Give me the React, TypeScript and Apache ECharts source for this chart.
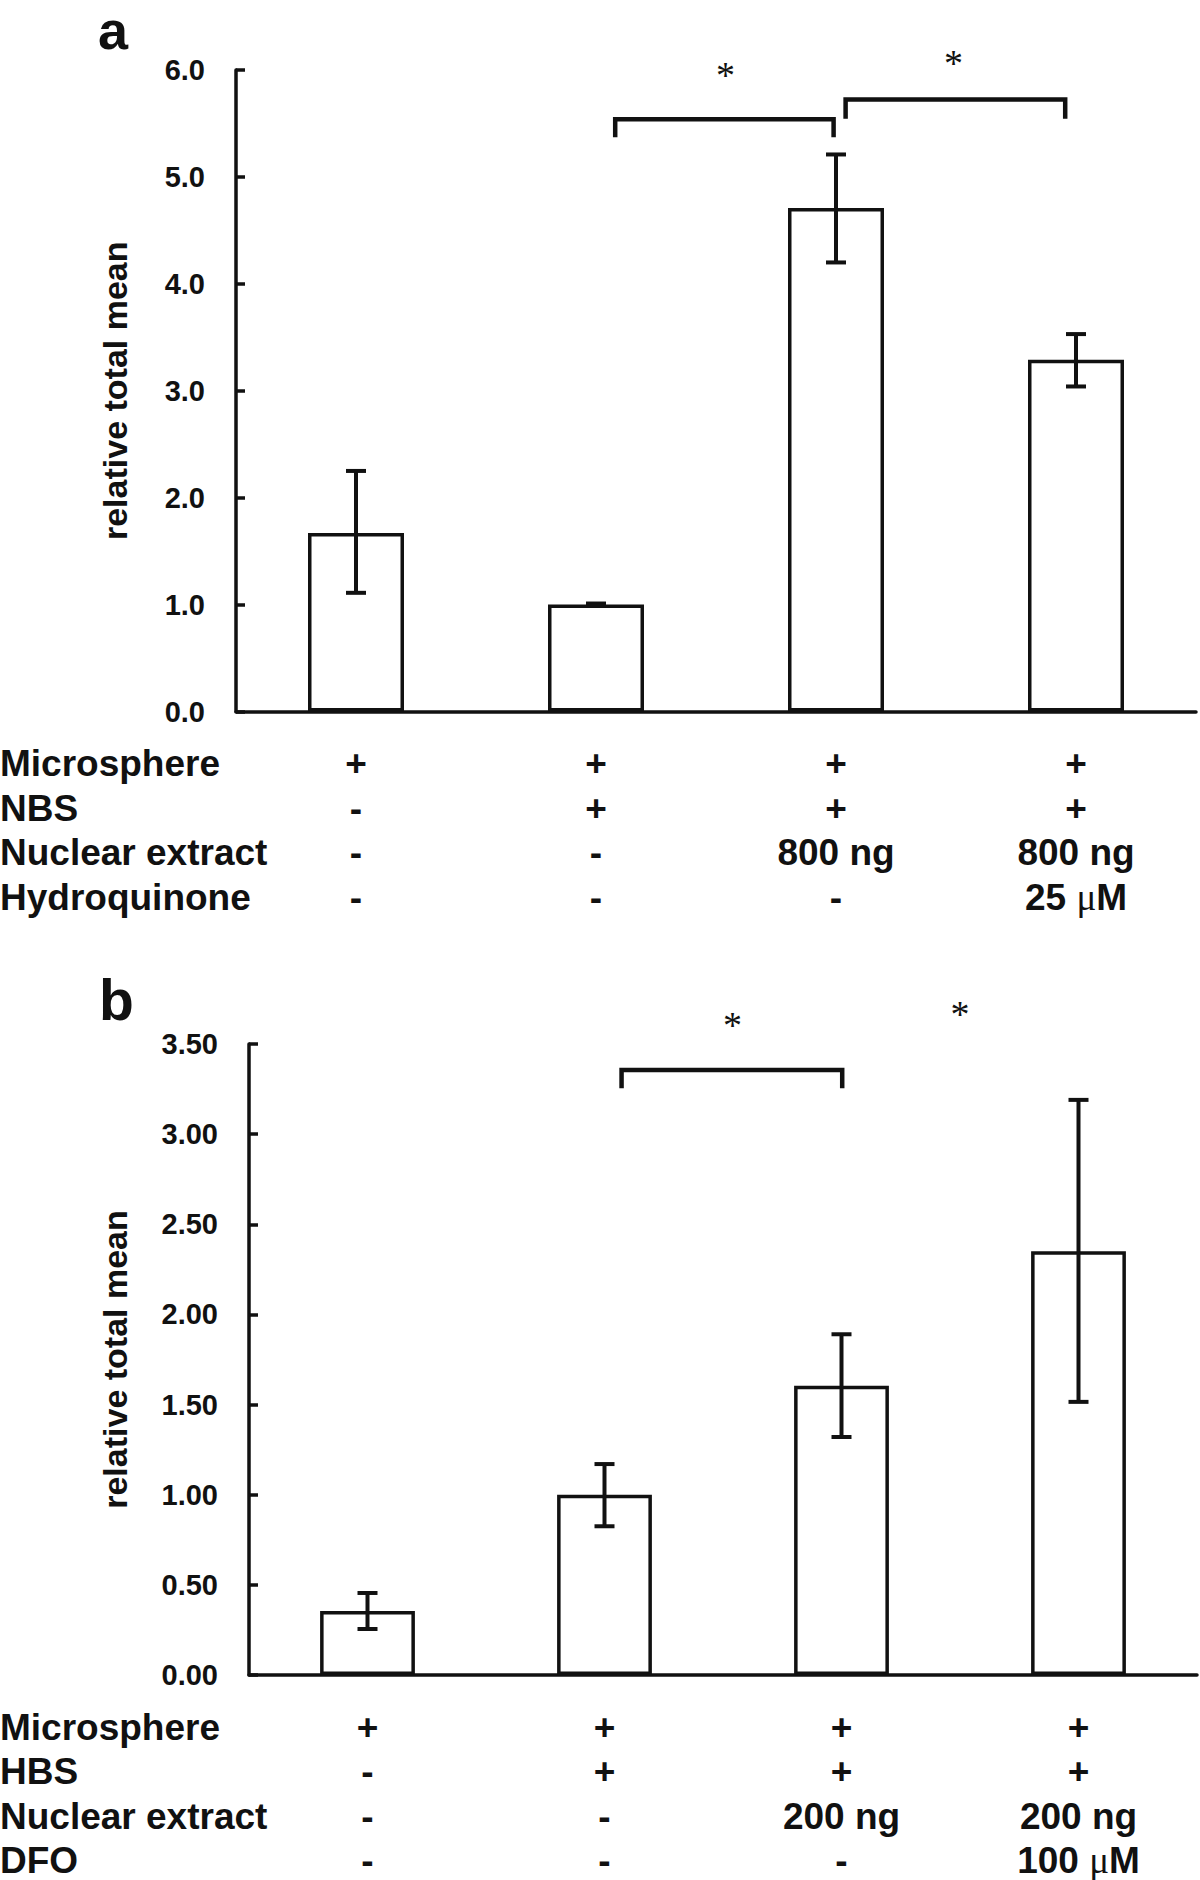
import React, { useEffect, useRef } from 'react';
import * as echarts from 'echarts';

// ---------- data ----------
const categoriesA = ['A1', 'A2', 'A3', 'A4'];
const valuesA = [1.67, 1.0, 4.71, 3.29];
const errHighA = [2.25, 1.01, 5.21, 3.53];
const errLowA = [1.11, 0.99, 4.2, 3.04];
const rowLabelsA = ['Microsphere', 'NBS', 'Nuclear extract', 'Hydroquinone'];
const tableA = [
  ['+', '+', '+', '+'],
  ['-', '+', '+', '+'],
  ['-', '-', '800 ng', '800 ng'],
  ['-', '-', '-', '25 μM'],
];
// significance brackets: [fromIndex, toIndex, barValue, legEndValue]
const bracketsA = [
  [1.08, 1.99, 5.54, 5.37],
  [2.04, 2.955, 5.724, 5.544],
];
// asterisks: [index position, value]
const starsA = [
  [1.54, 6.04],
  [2.49, 6.15],
];

const categoriesB = ['B1', 'B2', 'B3', 'B4'];
const valuesB = [0.355, 1.0, 1.605, 2.35];
const errHighB = [0.455, 1.17, 1.89, 3.19];
const errLowB = [0.255, 0.825, 1.32, 1.515];
const rowLabelsB = ['Microsphere', 'HBS', 'Nuclear extract', 'DFO'];
const tableB = [
  ['+', '+', '+', '+'],
  ['-', '+', '+', '+'],
  ['-', '-', '200 ng', '200 ng'],
  ['-', '-', '-', '100 μM'],
];
const bracketsB = [[1.072, 2.003, 3.356, 3.254]];
const starsB = [
  [1.54, 3.655],
  [2.5, 3.716],
];

const ticksA = { max: 6, interval: 1, decimals: 1 };
const ticksB = { max: 3.5, interval: 0.5, decimals: 2 };

// ---------- style ----------
const INK = '#111';
const SANS = '"Liberation Sans", Arial, Helvetica, sans-serif';
const SERIF = '"Liberation Serif", "Times New Roman", serif';

function catAxis(gridIndex: number, data: string[]) {
  return {
    type: 'category',
    gridIndex,
    data,
    axisLine: { onZero: false, lineStyle: { color: INK, width: 3.5 } },
    axisTick: { inside: true, length: 9, lineStyle: { color: INK, width: 3.5 } },
    axisLabel: { show: false },
    splitLine: { show: false },
  };
}

function hiddenValueX(gridIndex: number) {
  return {
    type: 'value',
    gridIndex,
    min: -0.5,
    max: 3.5,
    show: false,
    splitLine: { show: false },
    axisLine: { show: false, onZero: false },
    axisTick: { show: false },
    axisLabel: { show: false },
  };
}

function valAxis(gridIndex: number, t: { max: number; interval: number; decimals: number }, nameGap: number) {
  return {
    type: 'value',
    gridIndex,
    min: 0,
    max: t.max,
    interval: t.interval,
    name: 'relative total mean',
    nameLocation: 'middle',
    nameGap,
    nameTextStyle: { fontSize: 34, fontWeight: 'bold', fontFamily: SANS, color: INK },
    axisLine: { show: true, onZero: false, lineStyle: { color: INK, width: 3.5 } },
    axisTick: { show: true, inside: true, length: 9, lineStyle: { color: INK, width: 3.5 } },
    axisLabel: {
      margin: 31,
      fontSize: 29,
      fontWeight: 'bold',
      fontFamily: SANS,
      color: INK,
      formatter: (v: number) => v.toFixed(t.decimals),
    },
    splitLine: { show: false },
  };
}

function barSeries(axisIdx: number, data: number[]) {
  return {
    type: 'bar',
    xAxisIndex: axisIdx,
    yAxisIndex: axisIdx,
    data,
    barWidth: '40%',
    itemStyle: { color: '#fff', borderColor: INK, borderWidth: 3.5 },
    z: 3,
  };
}

function errorSeries(axisIdx: number, low: number[], high: number[]) {
  return {
    type: 'custom',
    xAxisIndex: axisIdx,
    yAxisIndex: axisIdx,
    data: low.map((l, i) => [i, l, high[i]]),
    z: 5,
    renderItem: (_params: any, api: any) => {
      const x = api.value(0);
      const lo = api.coord([x, api.value(1)]);
      const hi = api.coord([x, api.value(2)]);
      const half = 10;
      const style = { stroke: INK, lineWidth: 4, fill: null };
      return {
        type: 'group',
        children: [
          { type: 'line', shape: { x1: hi[0], y1: hi[1], x2: lo[0], y2: lo[1] }, style },
          { type: 'line', shape: { x1: hi[0] - half, y1: hi[1], x2: hi[0] + half, y2: hi[1] }, style },
          { type: 'line', shape: { x1: lo[0] - half, y1: lo[1], x2: lo[0] + half, y2: lo[1] }, style },
        ],
      };
    },
  };
}

function bracketSeries(xIdx: number, yIdx: number, brackets: number[][]) {
  return {
    type: 'custom',
    xAxisIndex: xIdx,
    yAxisIndex: yIdx,
    data: brackets,
    clip: false,
    z: 6,
    renderItem: (_params: any, api: any) => {
      const a = api.coord([api.value(0), api.value(3)]);
      const b = api.coord([api.value(0), api.value(2)]);
      const c = api.coord([api.value(1), api.value(2)]);
      const d = api.coord([api.value(1), api.value(3)]);
      return {
        type: 'polyline',
        shape: { points: [a, b, c, d] },
        style: { stroke: INK, lineWidth: 4.5, fill: null, lineJoin: 'miter', lineCap: 'butt' },
      };
    },
  };
}

function starSeries(xIdx: number, yIdx: number, stars: number[][]) {
  return {
    type: 'custom',
    xAxisIndex: xIdx,
    yAxisIndex: yIdx,
    data: stars,
    clip: false,
    z: 6,
    renderItem: (_params: any, api: any) => {
      const p = api.coord([api.value(0), api.value(1)]);
      return {
        type: 'text',
        style: {
          text: '*',
          x: p[0],
          y: p[1] + 9,
          fill: INK,
          fontSize: 38,
          fontFamily: SERIF,
          align: 'center',
          verticalAlign: 'middle',
        },
      };
    },
  };
}

export default function App() {
  const ref = useRef<HTMLDivElement>(null);

  useEffect(() => {
    if (!ref.current) return;
    const chart = echarts.init(ref.current, undefined, { renderer: 'svg' });
    chart.setOption({
      animation: false,
      backgroundColor: '#fff',
      grid: [
        { left: 236, right: 4, top: 70, bottom: 1168.5, outerBoundsMode: 'none' },
        { left: 249, right: 3, top: 1044, bottom: 205, outerBoundsMode: 'none' },
      ],
      xAxis: [catAxis(0, categoriesA), catAxis(1, categoriesB), hiddenValueX(0), hiddenValueX(1)],
      yAxis: [valAxis(0, ticksA, 104), valAxis(1, ticksB, 117)],
      series: [
        barSeries(0, valuesA),
        barSeries(1, valuesB),
        errorSeries(0, errLowA, errHighA),
        errorSeries(1, errLowB, errHighB),
        bracketSeries(2, 0, bracketsA),
        bracketSeries(3, 1, bracketsB),
        starSeries(2, 0, starsA),
        starSeries(3, 1, starsB),
      ],
    });

    const graphics: any[] = [];
    const boldFont = `bold 37px ${SANS}`;
    const addTable = (idx: number, cats: string[], labels: string[], rows: string[][]) => {
      const y0 = chart.convertToPixel({ yAxisIndex: idx }, 0) as number;
      labels.forEach((lab, r) => {
        const y = y0 + 52 + r * 44.6;
        graphics.push({
          type: 'text',
          x: 0,
          y,
          style: { text: lab, font: boldFont, fill: INK, align: 'left', verticalAlign: 'middle' },
        });
        rows[r].forEach((cell, c) => {
          const x = chart.convertToPixel({ xAxisIndex: idx }, cats[c]) as number;
          const parts = cell.split('μ');
          const text = parts.length > 1 ? parts.map((p) => (p ? `{b|${p}}` : '')).join('{m|μ}') : cell;
          graphics.push({
            type: 'text',
            x,
            y,
            style: {
              text,
              font: boldFont,
              fill: INK,
              align: 'center',
              verticalAlign: 'middle',
              rich: {
                b: { fontSize: 37, fontWeight: 'bold', fontFamily: SANS, fill: INK },
                m: { fontSize: 37, fontWeight: 'normal', fontFamily: SERIF, fill: INK },
              },
            },
          });
        });
      });
    };
    addTable(0, categoriesA, rowLabelsA, tableA);
    addTable(1, categoriesB, rowLabelsB, tableB);

    graphics.push({
      type: 'text',
      x: 98,
      y: 0,
      style: {
        text: 'a',
        font: `bold 54px ${SANS}`,
        lineHeight: 60,
        fill: INK,
        align: 'left',
        verticalAlign: 'top',
      },
    });
    graphics.push({
      type: 'text',
      x: 99,
      y: 1000,
      style: { text: 'b', font: `bold 57px ${SANS}`, fill: INK, align: 'left', verticalAlign: 'middle' },
    });

    chart.setOption({ graphic: graphics });

    return () => chart.dispose();
  }, []);

  return (
    <div
      ref={ref}
      style={{ position: 'absolute', left: 0, top: 0, width: 1200, height: 1880, background: '#fff' }}
    />
  );
}
